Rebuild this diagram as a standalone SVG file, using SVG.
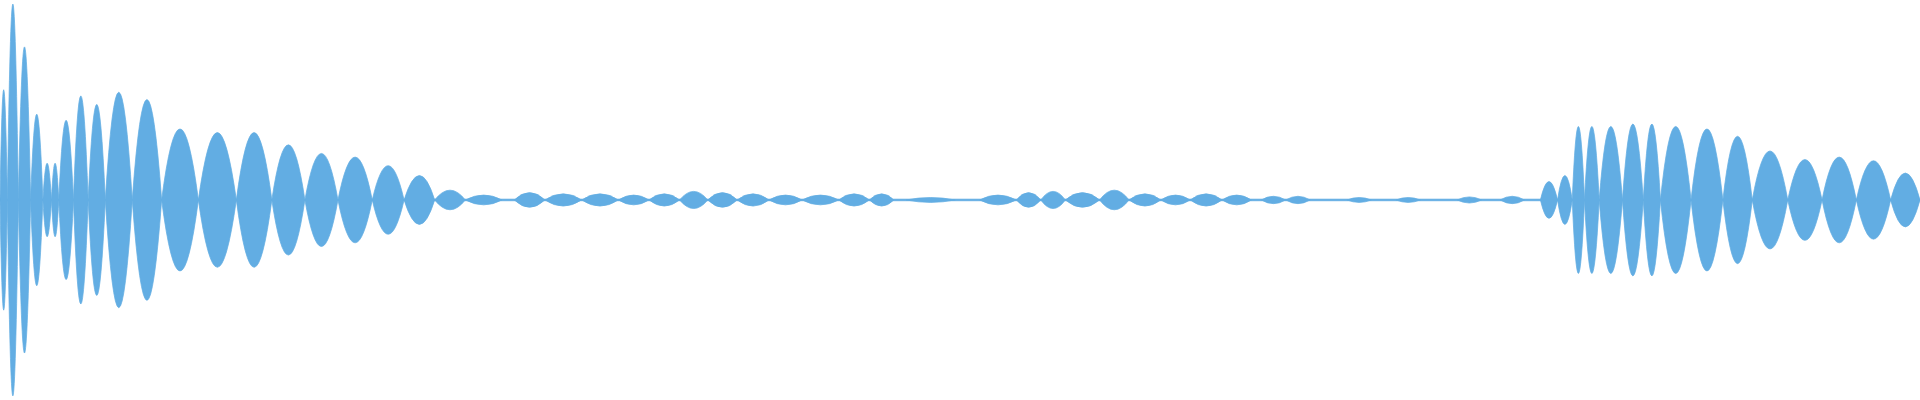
<svg xmlns="http://www.w3.org/2000/svg" width="1920" height="400" viewBox="0 0 1920 400">
<style>.w{fill:#62ade3;stroke:#62ade3;stroke-width:0.6}</style>
<rect width="1920" height="400" fill="#ffffff"/>
<g transform="scale(1.2245)" class="w">
<rect x="0" y="162.6" width="1568" height="1.4"/>
<path d="M0 163.3Q3 -16.7 6 163.3Q3 343.3 0 163.3Z"/>
<path d="M6 163.3Q10.5 -156.7 15 163.3Q10.5 483.3 6 163.3Z"/>
<path d="M15 163.3Q20 -86.7 25 163.3Q20 413.3 15 163.3Z"/>
<path d="M25 163.3Q30 23.3 35 163.3Q30 303.3 25 163.3Z"/>
<path d="M35 163.3Q38.5 103.3 42 163.3Q38.5 223.3 35 163.3Z"/>
<path d="M42 163.3Q45 103.3 48 163.3Q45 223.3 42 163.3Z"/>
<path d="M48 163.3Q54 33.3 60 163.3Q54 293.3 48 163.3Z"/>
<path d="M60 163.3Q66 -6.7 72 163.3Q66 333.3 60 163.3Z"/>
<path d="M72 163.3Q79 7.3 86 163.3Q79 319.3 72 163.3Z"/>
<path d="M86 163.3Q97 -12.7 108 163.3Q97 339.3 86 163.3Z"/>
<path d="M108 163.3Q120 -0.7 132 163.3Q120 327.3 108 163.3Z"/>
<path d="M132 163.3Q147 47.3 162 163.3Q147 279.3 132 163.3Z"/>
<path d="M162 163.3Q177.5 53.3 193 163.3Q177.5 273.3 162 163.3Z"/>
<path d="M193 163.3Q207.5 53.3 222 163.3Q207.5 273.3 193 163.3Z"/>
<path d="M222 163.3Q235.5 73.3 249 163.3Q235.5 253.3 222 163.3Z"/>
<path d="M249 163.3Q262.5 87.3 276 163.3Q262.5 239.3 249 163.3Z"/>
<path d="M276 163.3Q290 93.3 304 163.3Q290 233.3 276 163.3Z"/>
<path d="M304 163.3Q317 107.3 330 163.3Q317 219.3 304 163.3Z"/>
<path d="M330 163.3Q342.5 123.3 355 163.3Q342.5 203.3 330 163.3Z"/>
<path d="M355 163.3Q367.5 147.3 380 163.3Q367.5 179.3 355 163.3Z"/>
<path d="M380 163.3Q395 155.3 410 163.3Q395 171.3 380 163.3Z"/>
<path d="M420 163.3Q432.5 151.3 445 163.3Q432.5 175.3 420 163.3Z"/>
<path d="M445 163.3Q460 153.3 475 163.3Q460 173.3 445 163.3Z"/>
<path d="M475 163.3Q490 153.3 505 163.3Q490 173.3 475 163.3Z"/>
<path d="M505 163.3Q517.5 155.3 530 163.3Q517.5 171.3 505 163.3Z"/>
<path d="M530 163.3Q542.5 153.3 555 163.3Q542.5 173.3 530 163.3Z"/>
<path d="M555 163.3Q566.5 149.3 578 163.3Q566.5 177.3 555 163.3Z"/>
<path d="M578 163.3Q590 151.3 602 163.3Q590 175.3 578 163.3Z"/>
<path d="M602 163.3Q615 153.3 628 163.3Q615 173.3 602 163.3Z"/>
<path d="M628 163.3Q641.5 155.3 655 163.3Q641.5 171.3 628 163.3Z"/>
<path d="M655 163.3Q670 155.3 685 163.3Q670 171.3 655 163.3Z"/>
<path d="M685 163.3Q697.5 153.3 710 163.3Q697.5 173.3 685 163.3Z"/>
<path d="M710 163.3Q720 153.3 730 163.3Q720 173.3 710 163.3Z"/>
<path d="M740 163.3Q760 159.3 780 163.3Q760 167.3 740 163.3Z"/>
<path d="M800 163.3Q815 155.3 830 163.3Q815 171.3 800 163.3Z"/>
<path d="M830 163.3Q840 151.3 850 163.3Q840 175.3 830 163.3Z"/>
<path d="M850 163.3Q860 149.3 870 163.3Q860 177.3 850 163.3Z"/>
<path d="M870 163.3Q884 151.3 898 163.3Q884 175.3 870 163.3Z"/>
<path d="M898 163.3Q910 147.3 922 163.3Q910 179.3 898 163.3Z"/>
<path d="M922 163.3Q935 153.3 948 163.3Q935 173.3 922 163.3Z"/>
<path d="M948 163.3Q960 155.3 972 163.3Q960 171.3 948 163.3Z"/>
<path d="M972 163.3Q985 153.3 998 163.3Q985 173.3 972 163.3Z"/>
<path d="M998 163.3Q1010 155.3 1022 163.3Q1010 171.3 998 163.3Z"/>
<path d="M1030 163.3Q1040 157.3 1050 163.3Q1040 169.3 1030 163.3Z"/>
<path d="M1050 163.3Q1060 157.3 1070 163.3Q1060 169.3 1050 163.3Z"/>
<path d="M1100 163.3Q1110 159.3 1120 163.3Q1110 167.3 1100 163.3Z"/>
<path d="M1140 163.3Q1150 159.3 1160 163.3Q1150 167.3 1140 163.3Z"/>
<path d="M1190 163.3Q1200 158.3 1210 163.3Q1200 168.3 1190 163.3Z"/>
<path d="M1225 163.3Q1235 157.3 1245 163.3Q1235 169.3 1225 163.3Z"/>
<path d="M1258 163.3Q1265 133.3 1272 163.3Q1265 193.3 1258 163.3Z"/>
<path d="M1272 163.3Q1278 123.3 1284 163.3Q1278 203.3 1272 163.3Z"/>
<path d="M1284 163.3Q1289 43.3 1294 163.3Q1289 283.3 1284 163.3Z"/>
<path d="M1294 163.3Q1300 43.3 1306 163.3Q1300 283.3 1294 163.3Z"/>
<path d="M1306 163.3Q1315.5 43.3 1325 163.3Q1315.5 283.3 1306 163.3Z"/>
<path d="M1325 163.3Q1333.5 39.3 1342 163.3Q1333.5 287.3 1325 163.3Z"/>
<path d="M1342 163.3Q1349 39.3 1356 163.3Q1349 287.3 1342 163.3Z"/>
<path d="M1356 163.3Q1368.5 43.3 1381 163.3Q1368.5 283.3 1356 163.3Z"/>
<path d="M1381 163.3Q1394 47.3 1407 163.3Q1394 279.3 1381 163.3Z"/>
<path d="M1407 163.3Q1419 59.3 1431 163.3Q1419 267.3 1407 163.3Z"/>
<path d="M1431 163.3Q1445.5 83.3 1460 163.3Q1445.5 243.3 1431 163.3Z"/>
<path d="M1460 163.3Q1474 97.3 1488 163.3Q1474 229.3 1460 163.3Z"/>
<path d="M1488 163.3Q1502 93.3 1516 163.3Q1502 233.3 1488 163.3Z"/>
<path d="M1516 163.3Q1530 99.3 1544 163.3Q1530 227.3 1516 163.3Z"/>
<path d="M1544 163.3Q1556 119.3 1568 163.3Q1556 207.3 1544 163.3Z"/>
</g>
</svg>
